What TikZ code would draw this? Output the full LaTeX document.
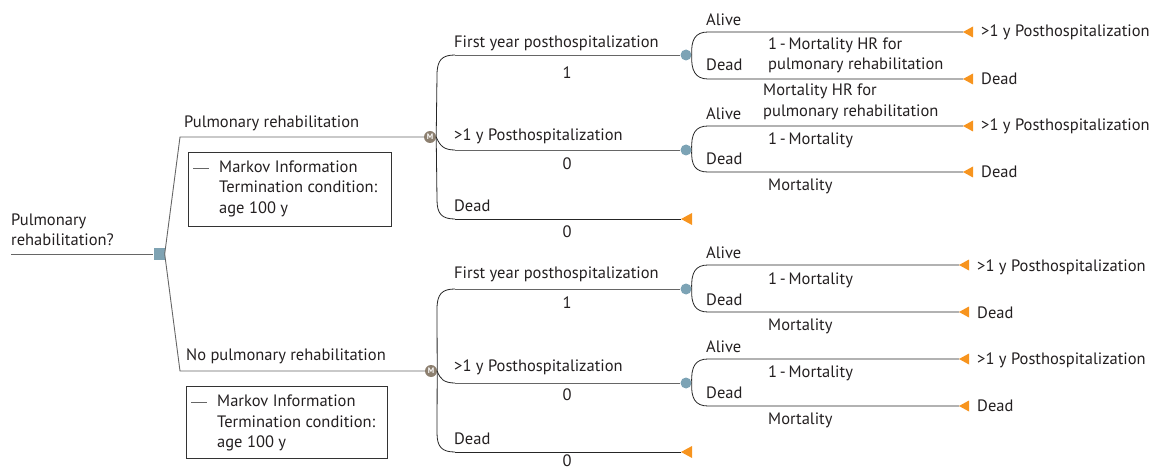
\documentclass[tikz,border=0pt]{standalone}
\usepackage{fontspec}
\setmainfont{PT Sans}
\definecolor{mcol}{HTML}{8C7F6F}
\definecolor{ccol}{HTML}{7CA3B5}
\definecolor{dcol}{HTML}{7FA3B3}
\definecolor{tcol}{HTML}{F7941E}
\definecolor{txt}{HTML}{231F20}
\newcommand{\fsz}{\fontsize{16.5}{20.5}\selectfont}
\tikzset{
  ln/.style={draw=black!60, line width=0.9pt},
  crv/.style={draw=black!85, line width=0.8pt},
  mnode/.style={circle, fill=mcol, minimum size=12pt, inner sep=0pt, text=white, font=\fontsize{8}{8}\selectfont\bfseries},
  cnode/.style={circle, fill=ccol, minimum size=11pt, inner sep=0pt},
  dnode/.style={rectangle, fill=dcol, minimum size=11pt, inner sep=0pt},
  lbl/.style={anchor=west, inner sep=0pt, text=txt, font=\fsz, align=left},
  num/.style={anchor=center, inner sep=0pt, text=txt, font=\fsz},
  tri/.style={fill=tcol},
  mbox/.style={draw=black!80, line width=0.8pt}
}
\begin{document}
\begin{tikzpicture}[x=1pt,y=-1pt]
\useasboundingbox (0,0) rectangle (1158,470);

% root
\coordinate (root) at (11,254);
\node[dnode] (d) at (159,254) {};
\draw[ln] (root) -- (d.west);
\node[lbl] (rootlbl) at (11,230) {Pulmonary\\rehabilitation?};

% Markov nodes
\node[mnode] (m1) at (430,137) {M};
\node[mnode] (m2) at (431,371) {M};
\coordinate (k1) at (180,137);
\coordinate (k2) at (180,371);
\draw[ln] (d.east) -- (k1) -- (m1.west);
\draw[ln] (d.east) -- (k2) -- (m2.west);
\node[lbl] (pr) at (184,123) {Pulmonary rehabilitation};
\node[lbl] (npr) at (186,356) {No pulmonary rehabilitation};

% Markov information boxes
\node[mbox, minimum width=203pt, minimum height=74pt, inner sep=0pt] (box1) at (289.5,189) {};
\coordinate (b1a) at (193,168);
\coordinate (b1b) at (209,168);
\draw[draw=black!60, line width=0.8pt] (b1a) -- (b1b);
\node[lbl] (box1t) at (219,188.5) {Markov Information\\Termination condition:\\age 100 y};
\node[mbox, minimum width=201pt, minimum height=72pt, inner sep=0pt] (box2) at (286.5,422) {};
\coordinate (b2a) at (191,402);
\coordinate (b2b) at (207,402);
\draw[draw=black!60, line width=0.8pt] (b2a) -- (b2b);
\node[lbl] (box2t) at (217,423) {Markov Information\\Termination condition:\\age 100 y};

% ---------- upper Markov subtree ----------
\node[cnode] (c1) at (686,55) {};
\node[cnode] (c2) at (686,150) {};
\coordinate (td1) at (681,219);
\fill[tri] (td1) -- ++(11,-6) -- ++(0,12) -- cycle;
\coordinate (j1) at (455,55);
\coordinate (j2) at (455,150);
\coordinate (j3) at (455,219);
\draw[crv] (m1.east) -- (437,75) .. controls (437,60) and (442,55) .. (j1);
\draw[crv] (m1.east) .. controls (440,146) and (444,150) .. (j2);
\draw[crv] (m1.east) -- (437,200) .. controls (437,214) and (442,219) .. (j3);
\draw[ln] (j1) -- (c1.west);
\draw[ln] (j2) -- (c2.west);
\draw[crv] (j3) -- (td1);
\node[lbl] (l1) at (454,43) {First year posthospitalization};
\node[num] (p1) at (567,73) {1};
\node[lbl] (l2) at (454,136) {>1 y Posthospitalization};
\node[num] (p2) at (567,164) {0};
\node[lbl] (l3) at (454,206) {Dead};
\node[num] (p3) at (567,232) {0};

% c1 branches
\coordinate (t1a) at (963,32);
\coordinate (t1d) at (963,79);
\fill[tri] (t1a) -- ++(10,-5.5) -- ++(0,11) -- cycle;
\fill[tri] (t1d) -- ++(10,-5.5) -- ++(0,11) -- cycle;
\draw[crv] (c1.east) .. controls (691,40) and (695,32) .. (708,32) -- (t1a);
\draw[crv] (c1.east) .. controls (691,70) and (695,79) .. (708,79) -- (t1d);
\node[lbl] (c1al) at (706,20) {Alive};
\node[lbl] (c1dl) at (706,65) {Dead};
\node[lbl] (c1p) at (768,55.5) {1\,-\,Mortality HR for\\pulmonary rehabilitation};
\node[lbl] (c1q) at (763,102) {Mortality HR for\\pulmonary rehabilitation};
\node[lbl] (c1at) at (981,32) {>1 y Posthospitalization};
\node[lbl] (c1dt) at (981,79) {Dead};

% c2 branches
\coordinate (t2a) at (963,126);
\coordinate (t2d) at (963,172);
\fill[tri] (t2a) -- ++(10,-5.5) -- ++(0,11) -- cycle;
\fill[tri] (t2d) -- ++(10,-5.5) -- ++(0,11) -- cycle;
\draw[crv] (c2.east) .. controls (691,134) and (695,126) .. (708,126) -- (t2a);
\draw[crv] (c2.east) .. controls (691,165) and (695,172) .. (708,172) -- (t2d);
\node[lbl] (c2al) at (706,114) {Alive};
\node[lbl] (c2dl) at (706,159) {Dead};
\node[lbl] (c2p) at (768,140) {1\,-\,Mortality};
\node[lbl] (c2q) at (768,186) {Mortality};
\node[lbl] (c2at) at (981,126) {>1 y Posthospitalization};
\node[lbl] (c2dt) at (981,172) {Dead};

% ---------- lower Markov subtree ----------
\node[cnode] (c3) at (686,289) {};
\node[cnode] (c4) at (686,383) {};
\coordinate (td2) at (681,452);
\fill[tri] (td2) -- ++(11,-6) -- ++(0,12) -- cycle;
\coordinate (j4) at (455,289);
\coordinate (j5) at (455,383);
\coordinate (j6) at (455,452);
\draw[crv] (m2.east) -- (437,309) .. controls (437,294) and (442,289) .. (j4);
\draw[crv] (m2.east) .. controls (440,379) and (444,383) .. (j5);
\draw[crv] (m2.east) -- (437,433) .. controls (437,447) and (442,452) .. (j6);
\draw[ln] (j4) -- (c3.west);
\draw[ln] (j5) -- (c4.west);
\draw[crv] (j6) -- (td2);
\node[lbl] (l4) at (454,274) {First year posthospitalization};
\node[num] (p4) at (567,303) {1};
\node[lbl] (l5) at (454,367) {>1 y Posthospitalization};
\node[num] (p5) at (567,395) {0};
\node[lbl] (l6) at (454,439) {Dead};
\node[num] (p6) at (567,461) {0};

% c3 branches
\coordinate (t3a) at (959,265);
\coordinate (t3d) at (959,312);
\fill[tri] (t3a) -- ++(10,-5.5) -- ++(0,11) -- cycle;
\fill[tri] (t3d) -- ++(10,-5.5) -- ++(0,11) -- cycle;
\draw[crv] (c3.east) .. controls (691,273) and (695,265) .. (708,265) -- (t3a);
\draw[crv] (c3.east) .. controls (691,304) and (695,312) .. (708,312) -- (t3d);
\node[lbl] (c3al) at (706,253) {Alive};
\node[lbl] (c3dl) at (706,300) {Dead};
\node[lbl] (c3p) at (768,280) {1\,-\,Mortality};
\node[lbl] (c3q) at (768,326) {Mortality};
\node[lbl] (c3at) at (977,267) {>1 y Posthospitalization};
\node[lbl] (c3dt) at (977,313) {Dead};

% c4 branches
\coordinate (t4a) at (959,359);
\coordinate (t4d) at (959,406);
\fill[tri] (t4a) -- ++(10,-5.5) -- ++(0,11) -- cycle;
\fill[tri] (t4d) -- ++(10,-5.5) -- ++(0,11) -- cycle;
\draw[crv] (c4.east) .. controls (691,367) and (695,359) .. (708,359) -- (t4a);
\draw[crv] (c4.east) .. controls (691,398) and (695,406) .. (708,406) -- (t4d);
\node[lbl] (c4al) at (706,347) {Alive};
\node[lbl] (c4dl) at (706,393) {Dead};
\node[lbl] (c4p) at (768,373) {1\,-\,Mortality};
\node[lbl] (c4q) at (768,420) {Mortality};
\node[lbl] (c4at) at (977,360) {>1 y Posthospitalization};
\node[lbl] (c4dt) at (977,406) {Dead};
\end{tikzpicture}
\end{document}
